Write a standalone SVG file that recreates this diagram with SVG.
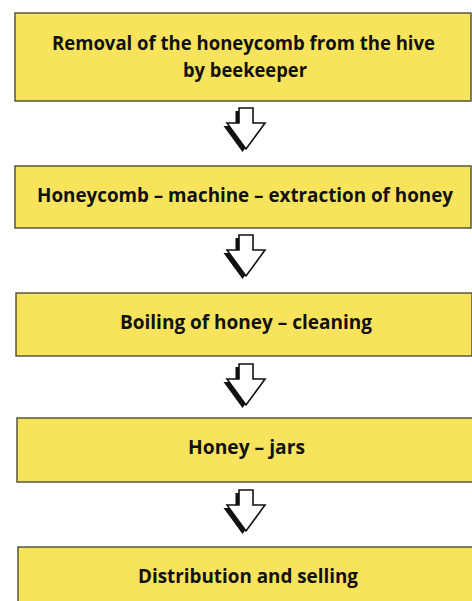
<svg xmlns="http://www.w3.org/2000/svg" width="472" height="601" viewBox="0 0 472 601">
<defs>
<style>
.box{fill:#F8E45C;stroke:#4a4a3a;stroke-width:1.4}
.lbl{font-family:"Open Sans","Liberation Sans",sans-serif;font-weight:bold;font-size:19px;fill:#111;text-anchor:middle}
.sh{fill:#111}
.ar{fill:#fff;stroke:#111;stroke-width:1.6;stroke-linejoin:miter}
</style>
<g id="arrow">
<polygon class="sh" points="-7,0 7,0 7,15 19,15 0,41 -19,15 -7,15" transform="translate(-3.5,3)"/>
<polygon class="ar" points="-7,0 7,0 7,15 19,15 0,41 -19,15 -7,15"/>
</g>
</defs>
<rect width="472" height="601" fill="#ffffff"/>
<g id="connectors">
<use href="#arrow" x="246" y="108"/>
<use href="#arrow" x="246" y="235"/>
<use href="#arrow" x="246" y="364"/>
<use href="#arrow" x="246" y="490"/>
</g>
<g id="n1">
<rect class="box" x="15" y="13" width="456" height="88"/>
<text class="lbl" x="243.5" y="50" textLength="383" lengthAdjust="spacingAndGlyphs">Removal of the honeycomb from the hive</text>
<text class="lbl" x="245" y="77" textLength="124" lengthAdjust="spacingAndGlyphs">by beekeeper</text>
</g>
<g id="n2">
<rect class="box" x="15" y="166" width="456" height="62"/>
<text class="lbl" x="245" y="202" textLength="416" lengthAdjust="spacingAndGlyphs">Honeycomb – machine – extraction of honey</text>
</g>
<g id="n3">
<rect class="box" x="16" y="293" width="456" height="63"/>
<text class="lbl" x="246" y="329" textLength="252" lengthAdjust="spacingAndGlyphs">Boiling of honey – cleaning</text>
</g>
<g id="n4">
<rect class="box" x="17" y="418" width="456" height="64"/>
<text class="lbl" x="246.5" y="454" textLength="117" lengthAdjust="spacingAndGlyphs">Honey – jars</text>
</g>
<g id="n5">
<rect class="box" x="18" y="547" width="456" height="70"/>
<text class="lbl" x="248" y="583" textLength="220" lengthAdjust="spacingAndGlyphs">Distribution and selling</text>
</g>
</svg>
